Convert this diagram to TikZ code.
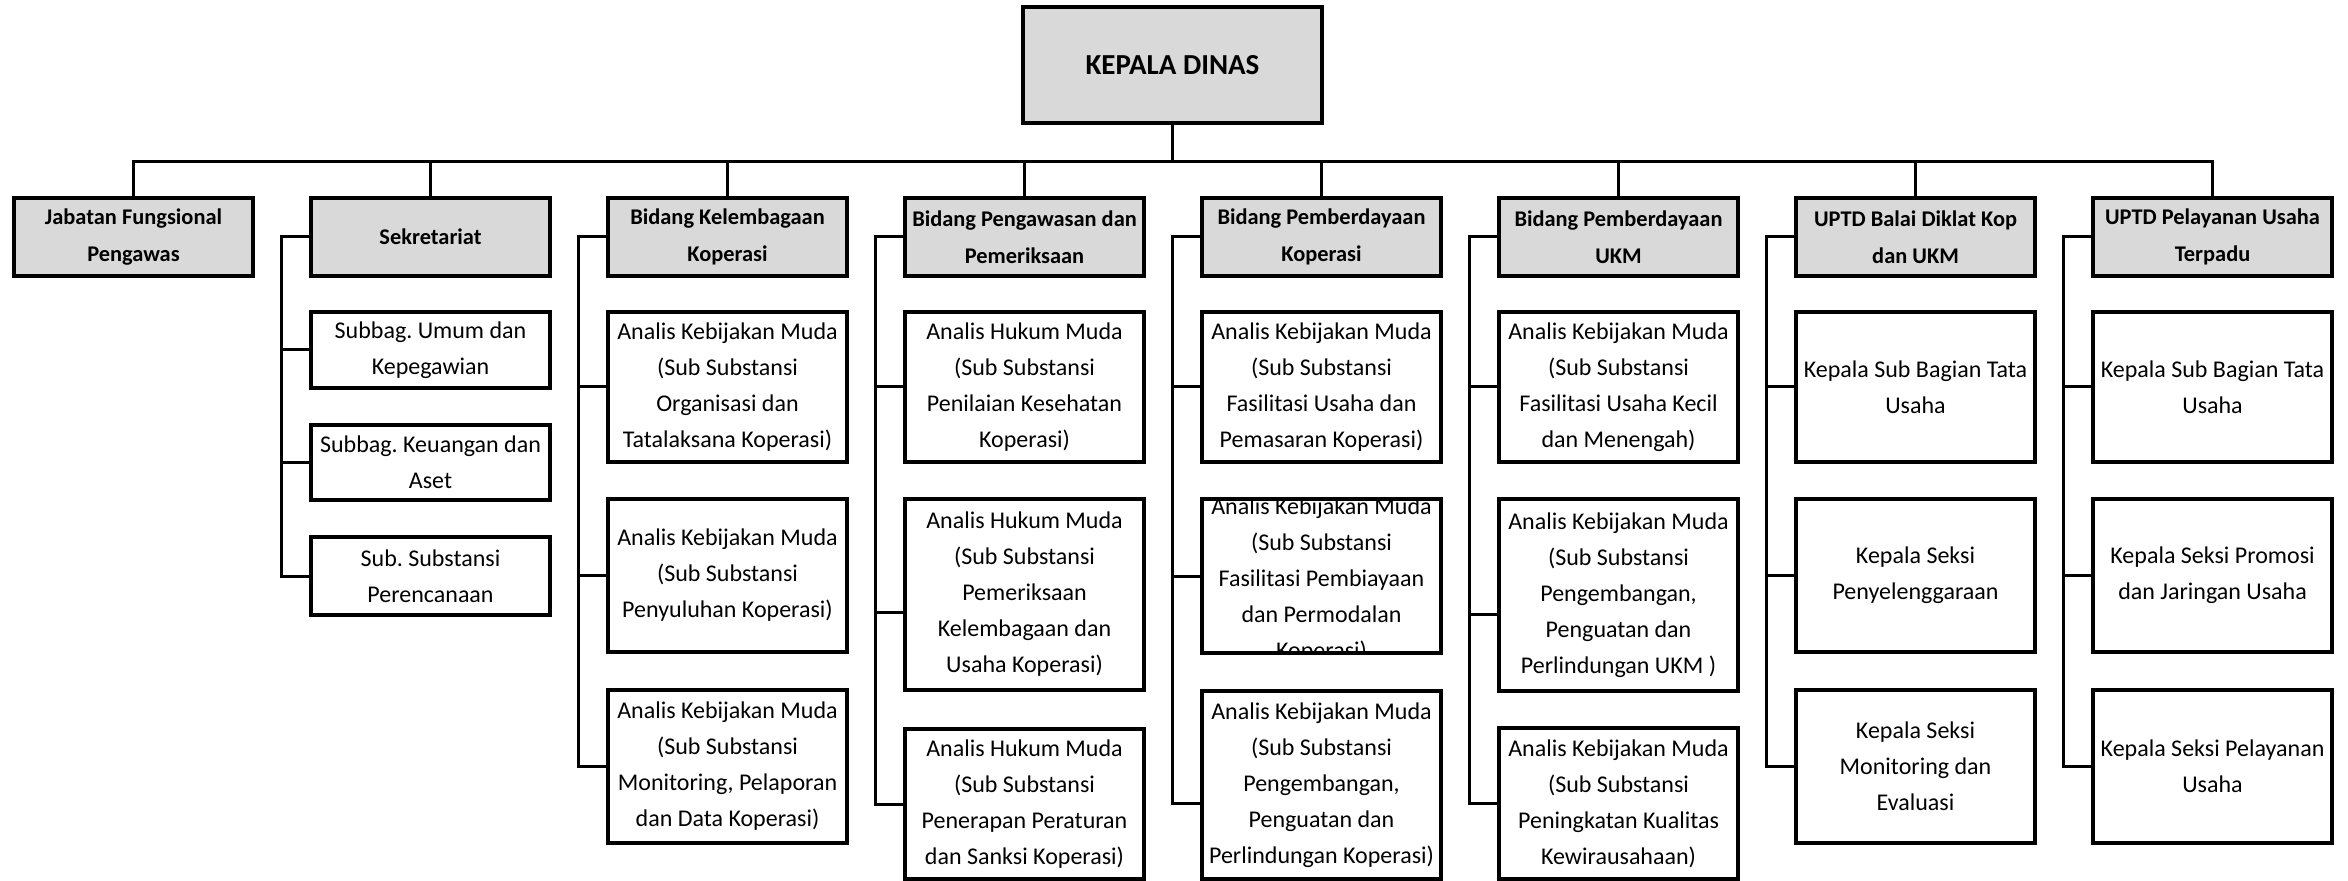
\documentclass[tikz,border=0pt]{standalone}
\usepackage{fontspec}
\setmainfont{Carlito}
\usepackage{tikz}
\frenchspacing
\definecolor{headgray}{RGB}{217,217,217}
\tikzset{every picture/.style={line width=0.75pt}}
\tikzset{
  kepala/.style={draw, line width=2pt, fill=headgray, minimum width=149.5pt, minimum height=58pt, font=\bfseries\fontsize{14.5}{17}\selectfont},
  bidang/.style={draw, line width=2pt, fill=headgray, minimum width=119.5pt, minimum height=39pt, inner sep=1pt, align=center, font=\bfseries\fontsize{11.2}{18.5}\selectfont},
  seksi/.style={draw, line width=2pt, fill=white, minimum width=119.5pt, inner sep=1pt, align=center, font=\fontsize{12}{18}\selectfont},
  garis/.style={line width=1.5pt},
}

\begin{document}
\begin{tikzpicture}[x=0.5pt,y=0.5pt,yscale=-1,xscale=1]
		\useasboundingbox (0,0) rectangle (2348,881);
		
		%Top: Kepala Dinas
		\node[kepala] (kd) at (1172.5,65) {KEPALA DINAS};
		
		%Row of bidang
		\node[bidang] (jab) at (133.5,237) {Jabatan Fungsional\\Pengawas};
		\node[bidang] (sek) at (430.5,237) {Sekretariat};
		\node[bidang] (kel) at (727.5,237) {Bidang Kelembagaan\\Koperasi};
		\node[bidang] (pgw) at (1024.5,237) {Bidang Pengawasan dan\\Pemeriksaan};
		\node[bidang] (pbk) at (1321.5,237) {Bidang Pemberdayaan\\Koperasi};
		\node[bidang] (ukm) at (1618.5,237) {Bidang Pemberdayaan\\UKM};
		\node[bidang] (bdk) at (1915.5,237) {UPTD Balai Diklat Kop\\dan UKM};
		\node[bidang] (plu) at (2212.5,237) {UPTD Pelayanan Usaha\\Terpadu};
		
		%Sekretariat
		\node[seksi, minimum height=38pt] (sek1) at (430.5,350) {Subbag. Umum dan\\Kepegawian};
		\node[seksi, minimum height=37.5pt] (sek2) at (430.5,462.5) {Subbag. Keuangan dan\\Aset};
		\node[seksi, minimum height=39pt] (sek3) at (430.5,576) {Sub. Substansi\\Perencanaan};
		
		%Bidang Kelembagaan Koperasi
		\node[seksi, minimum height=75pt] (kel1) at (727.5,387) {Analis Kebijakan Muda\\(Sub Substansi\\Organisasi dan\\Tatalaksana Koperasi)};
		\node[seksi, minimum height=76.5pt] (kel2) at (727.5,575.5) {Analis Kebijakan Muda\\(Sub Substansi\\Penyuluhan Koperasi)};
		\node[seksi, minimum height=76.5pt] (kel3) at (727.5,766.5) {Analis Kebijakan Muda\\(Sub Substansi\\Monitoring, Pelaporan\\dan Data Koperasi)};
		
		%Bidang Pengawasan dan Pemeriksaan
		\node[seksi, minimum height=75pt] (pgw1) at (1024.5,387) {Analis Hukum Muda\\(Sub Substansi\\Penilaian Kesehatan\\Koperasi)};
		\node[seksi, minimum height=95.5pt] (pgw2) at (1024.5,594.5) {Analis Hukum Muda\\(Sub Substansi\\Pemeriksaan\\Kelembagaan dan\\Usaha Koperasi)};
		\node[seksi, minimum height=75pt] (pgw3) at (1024.5,804) {Analis Hukum Muda\\(Sub Substansi\\Penerapan Peraturan\\dan Sanksi Koperasi)};
		
		%Bidang Pemberdayaan Koperasi
		\node[seksi, minimum height=75pt] (pbk1) at (1321.5,387) {Analis Kebijakan Muda\\(Sub Substansi\\Fasilitasi Usaha dan\\Pemasaran Koperasi)};
		\node[seksi, draw=none, outer sep=0pt, minimum height=77pt] (pbk2) at (1321.5,576) {};
		\begin{scope}
		\clip (pbk2.north west) rectangle (pbk2.south east);
		\node[seksi, draw=none, fill=none] (pbk2t) at (1321.5,580) {Analis Kebijakan Muda\\(Sub Substansi\\Fasilitasi Pembiayaan\\dan Permodalan\\Koperasi)};
		\end{scope}
		\draw[line width=2pt] (pbk2.north west) rectangle (pbk2.south east);
		\node[seksi, minimum height=94pt] (pbk3) at (1321.5,785) {Analis Kebijakan Muda\\(Sub Substansi\\Pengembangan,\\Penguatan dan\\Perlindungan Koperasi)};
		
		%Bidang Pemberdayaan UKM
		\node[seksi, minimum height=75pt] (ukm1) at (1618.5,387) {Analis Kebijakan Muda\\(Sub Substansi\\Fasilitasi Usaha Kecil\\dan Menengah)};
		\node[seksi, minimum height=96pt] (ukm2) at (1618.5,595) {Analis Kebijakan Muda\\(Sub Substansi\\Pengembangan,\\Penguatan dan\\Perlindungan UKM )};
		\node[seksi, minimum height=75.5pt] (ukm3) at (1618.5,803.5) {Analis Kebijakan Muda\\(Sub Substansi\\Peningkatan Kualitas\\Kewirausahaan)};
		
		%UPTD Balai Diklat
		\node[seksi, minimum height=75pt] (bdk1) at (1915.5,387) {Kepala Sub Bagian Tata\\Usaha};
		\node[seksi, minimum height=76.5pt] (bdk2) at (1915.5,575.5) {Kepala Seksi\\Penyelenggaraan};
		\node[seksi, minimum height=76.5pt] (bdk3) at (1915.5,766.5) {Kepala Seksi\\Monitoring dan\\Evaluasi};
		
		%UPTD Pelayanan Usaha
		\node[seksi, minimum height=75pt] (plu1) at (2212.5,387) {Kepala Sub Bagian Tata\\Usaha};
		\node[seksi, minimum height=76.5pt] (plu2) at (2212.5,575.5) {Kepala Seksi Promosi\\dan Jaringan Usaha};
		\node[seksi, minimum height=76.5pt] (plu3) at (2212.5,766.5) {Kepala Seksi Pelayanan\\Usaha};
		
		%Lines from Kepala Dinas
		\foreach \b in {jab,sek,kel,pgw,pbk,ukm,bdk,plu}
		\draw[garis] (kd.south) -- ++(0,37) -| (\b.north);
		
		%Side lines to the sub boxes
		\foreach \b/\s in {sek/sek1,sek/sek2,sek/sek3,kel/kel1,kel/kel2,kel/kel3,pgw/pgw1,pgw/pgw3,pbk/pbk1,pbk/pbk2,ukm/ukm1,ukm/ukm3,bdk/bdk1,bdk/bdk2,bdk/bdk3,plu/plu1,plu/plu2,plu/plu3}
		\draw[garis] (\b.west) -- ++(-28,0) |- (\s.west);
		\draw[garis] (pgw.west) -- ++(-28,0) |- ([yshift=9pt]pgw2.west);
		\draw[garis] (ukm.west) -- ++(-28,0) |- ([yshift=9.5pt]ukm2.west);
		\draw[garis] (pbk.west) -- ++(-28,0) |- ([yshift=9pt]pbk3.west);
		
\end{tikzpicture}
\end{document}
